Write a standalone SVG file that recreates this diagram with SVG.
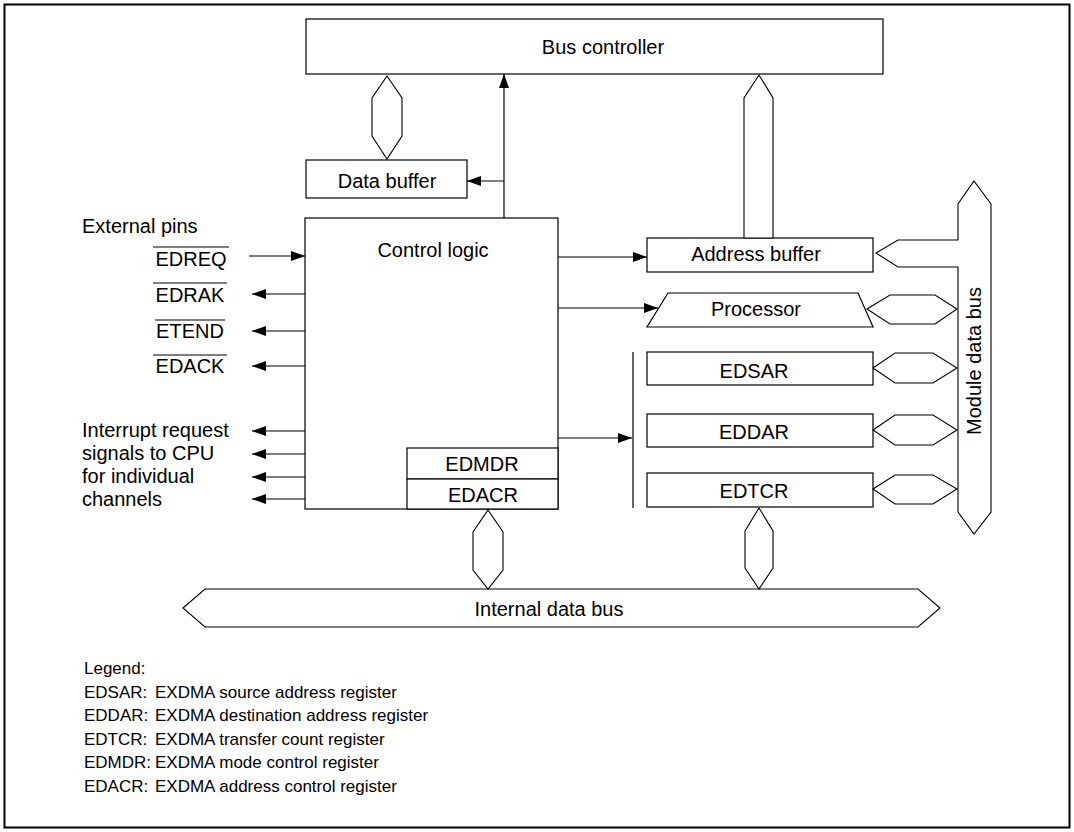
<svg xmlns="http://www.w3.org/2000/svg" width="1074" height="832" viewBox="0 0 1074 832">
<style>
  .box{fill:#fff;stroke:#000;stroke-width:1.2}
  .bus{fill:#fff;stroke:#000;stroke-width:1.1}
  .ln{fill:none;stroke:#000;stroke-width:1.2}
  .t{font-family:"Liberation Sans",Arial,Helvetica,sans-serif;font-size:20px;fill:#000}
  .c{text-anchor:middle}
  .lg{font-family:"Liberation Sans",Arial,Helvetica,sans-serif;font-size:17px;fill:#000}
</style>
<defs>
  <marker id="ah" markerUnits="userSpaceOnUse" markerWidth="14" markerHeight="10" refX="14" refY="5" orient="auto">
    <path d="M0,0 L14,5 L0,10 Z" fill="#000"/>
  </marker>
</defs>
<rect x="4.5" y="4.5" width="1065" height="823" fill="#fff" stroke="#000" stroke-width="2"/>

<g id="bus-controller">
  <rect class="box" x="306" y="19" width="577" height="55"/>
  <text class="t c" x="603" y="54">Bus controller</text>
</g>
<g id="data-buffer">
  <rect class="box" x="306" y="160" width="161" height="38"/>
  <text class="t c" x="387" y="188">Data buffer</text>
</g>
<g id="control-logic">
  <rect class="box" x="305" y="218" width="253" height="291"/>
  <text class="t c" x="433" y="257">Control logic</text>
</g>
<g id="edmdr">
  <rect class="box" x="407" y="448" width="151" height="31"/>
  <text class="t c" x="482" y="471">EDMDR</text>
</g>
<g id="edacr">
  <rect class="box" x="407" y="479" width="151" height="30"/>
  <text class="t c" x="483" y="502">EDACR</text>
</g>
<g id="address-buffer">
  <rect class="box" x="647" y="238" width="226" height="34"/>
  <text class="t c" x="756" y="261">Address buffer</text>
</g>
<g id="processor">
  <polygon class="box" points="668,293 858,293 873,327 647,327"/>
  <text class="t c" x="756" y="316">Processor</text>
</g>
<g id="edsar">
  <rect class="box" x="647" y="352" width="226" height="33"/>
  <text class="t c" x="754" y="378">EDSAR</text>
</g>
<g id="eddar">
  <rect class="box" x="647" y="414" width="226" height="33"/>
  <text class="t c" x="754" y="439">EDDAR</text>
</g>
<g id="edtcr">
  <rect class="box" x="647" y="473" width="226" height="34"/>
  <text class="t c" x="754" y="498">EDTCR</text>
</g>
<g id="module-data-bus">
  <polygon class="bus" points="974,181 991,204 991,512 974,534 958,512 958,267 898,267 876,253 898,240 958,240 958,204"/>
  <text class="t c" transform="translate(981,361) rotate(-90)" x="0" y="0">Module data bus</text>
</g>
<g id="internal-data-bus">
  <polygon class="bus" points="183,608 205,589 918,589 940,608 918,627 205,627"/>
  <text class="t c" x="549" y="616">Internal data bus</text>
</g>

<g id="external-pins">
  <text class="t" x="82" y="233">External pins</text>
  <text class="t c" x="191" y="266">EDREQ</text>
  <line class="ln" x1="153" y1="247" x2="229" y2="247"/>
  <text class="t c" x="190" y="302">EDRAK</text>
  <line class="ln" x1="153" y1="283" x2="227" y2="283"/>
  <text class="t c" x="190" y="338">ETEND</text>
  <line class="ln" x1="155" y1="320" x2="225" y2="320"/>
  <text class="t c" x="190" y="373">EDACK</text>
  <line class="ln" x1="153" y1="355" x2="227" y2="355"/>
</g>
<g id="interrupt-label">
  <text class="t" x="82" y="437">Interrupt request</text>
  <text class="t" x="82" y="460">signals to CPU</text>
  <text class="t" x="82" y="483">for individual</text>
  <text class="t" x="82" y="506">channels</text>
</g>

<g id="connectors">
  <polygon class="bus" points="387,76 402,98 402,136 387,159 372,136 372,98"/>
  <polygon class="bus" points="744,238 744,98 759,75 773,98 773,238"/>
  <polygon class="bus" points="867,309 890,295 935,295 957,309 935,324 890,324"/>
  <polygon class="bus" points="873,368 895,353 933,353 957,368 933,383 895,383"/>
  <polygon class="bus" points="873,430 895,415 933,415 957,430 933,445 895,445"/>
  <polygon class="bus" points="873,489 895,475 933,475 957,489 933,504 895,504"/>
  <polygon class="bus" points="488,510 503,532 503,570 488,589 473,570 473,532"/>
  <polygon class="bus" points="759,508 773,531 773,568 759,589 745,568 745,531"/>
  <line class="ln" x1="504" y1="218" x2="504" y2="74" marker-end="url(#ah)"/>
  <line class="ln" x1="504" y1="181" x2="467" y2="181" marker-end="url(#ah)"/>
  <line class="ln" x1="249" y1="256" x2="305" y2="256" marker-end="url(#ah)"/>
  <line class="ln" x1="305" y1="294" x2="252" y2="294" marker-end="url(#ah)"/>
  <line class="ln" x1="305" y1="331" x2="252" y2="331" marker-end="url(#ah)"/>
  <line class="ln" x1="305" y1="366" x2="252" y2="366" marker-end="url(#ah)"/>
  <line class="ln" x1="305" y1="431" x2="252" y2="431" marker-end="url(#ah)"/>
  <line class="ln" x1="305" y1="454" x2="252" y2="454" marker-end="url(#ah)"/>
  <line class="ln" x1="305" y1="477" x2="252" y2="477" marker-end="url(#ah)"/>
  <line class="ln" x1="305" y1="499" x2="252" y2="499" marker-end="url(#ah)"/>
  <line class="ln" x1="558" y1="257" x2="647" y2="257" marker-end="url(#ah)"/>
  <line class="ln" x1="558" y1="308" x2="658" y2="308" marker-end="url(#ah)"/>
  <line class="ln" x1="558" y1="438" x2="632" y2="438" marker-end="url(#ah)"/>
  <line class="ln" x1="633" y1="352" x2="633" y2="508"/>
</g>

<g id="legend">
  <text class="lg" x="84" y="674">Legend:</text>
  <text class="lg" x="84" y="698">EDSAR:</text>
  <text class="lg" x="155" y="698">EXDMA source address register</text>
  <text class="lg" x="84" y="721">EDDAR:</text>
  <text class="lg" x="155" y="721">EXDMA destination address register</text>
  <text class="lg" x="84" y="745">EDTCR:</text>
  <text class="lg" x="155" y="745">EXDMA transfer count register</text>
  <text class="lg" x="84" y="768">EDMDR:</text>
  <text class="lg" x="155" y="768">EXDMA mode control register</text>
  <text class="lg" x="84" y="792">EDACR:</text>
  <text class="lg" x="155" y="792">EXDMA address control register</text>
</g>
</svg>
